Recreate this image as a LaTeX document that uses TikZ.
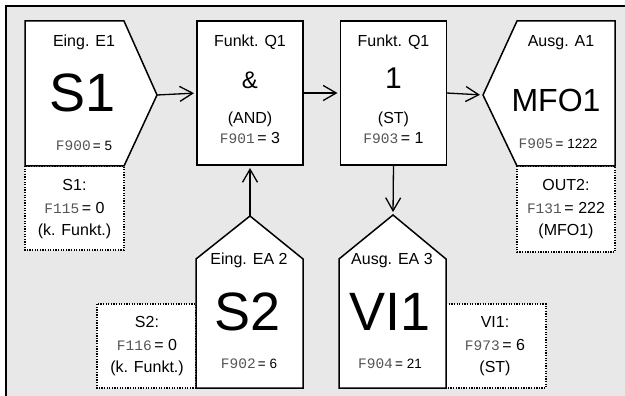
\documentclass[tikz,border=0pt]{standalone}
\usepackage{fontspec}
\setmainfont{Liberation Sans}
\newfontfamily\lcdfont{Liberation Mono}
\usetikzlibrary{arrows.meta}
\definecolor{bgc}{RGB}{232,232,232}
\definecolor{lcdc}{RGB}{85,85,85}
\newcommand{\lcdtxt}[1]{{\lcdfont\fontsize{14.5}{14.5}\selectfont\color{lcdc}#1}}
\begin{document}
\begin{tikzpicture}[x=1pt,y=-1pt,
  shp/.style={draw=black,line width=1.5pt,fill=white,line join=miter},
  dotbox/.style={draw=black,line width=1.7pt,dash pattern=on 1.3pt off 1.3pt,fill=white},
  fbox/.style={draw=black,line width=1.5pt,fill=white,rectangle,minimum width=106pt,minimum height=144pt,inner sep=0pt,outer sep=0pt},
  conn/.style={line width=1.3pt,-{Straight Barb[length=13pt,width=15pt,line width=1.3pt]},shorten >=3pt},
  lbl/.style={font=\fontsize{16}{16}\selectfont,inner sep=0pt,anchor=base},
  sml/.style={font=\fontsize{13.5}{13.5}\selectfont,inner sep=0pt,anchor=base},
  huge/.style={font=\fontsize{54}{54}\selectfont,inner sep=0pt,anchor=base},
]
\useasboundingbox (0,0) rectangle (625,396);
% background and frame
\fill[bgc] (6,6) rectangle (625,396);
\draw[line width=2pt] (6,396) -- (6,6) -- (625,6);

% dotted info boxes (drawn first, shapes overlap shared edges)
\draw[dotbox] (25,166) rectangle (124,250);
\draw[dotbox] (517,166) rectangle (615,252);
\draw[dotbox] (97,304) rectangle (196,388);
\draw[dotbox] (446,304) rectangle (546,388);

% input S1 pentagon
\draw[shp] (25,21) -- (124,21) -- (157,95) -- (124,166) -- (25,166) -- cycle;
\coordinate (s1tip) at (157,95);
% output MFO1 pentagon
\draw[shp] (517,21) -- (615,21) -- (615,166) -- (517,166) -- (483,95) -- cycle;
\coordinate (mfotip) at (483,95);
% S2 house
\draw[shp] (250,216) -- (303,259) -- (303,388) -- (196,388) -- (196,259) -- cycle;
\coordinate (s2apex) at (250,216);
% VI1 house
\draw[shp] (393,215) -- (446,259) -- (446,388) -- (339,388) -- (339,259) -- cycle;
\coordinate (vi1apex) at (393,215);

% function boxes
\node[fbox] (q1) at (250,93) {};
\node[fbox] (q2) at (393.5,93) {};

% connectors
\draw[conn] (s1tip) -- (q1.west);
\draw[conn] (q1.east) -- (q2.west);
\draw[conn] (q2.east) -- (mfotip);
\draw[conn] (s2apex) -- (q1.south);
\draw[conn] (q2.south) -- (vi1apex);

% S1 texts
\node[lbl] (t1) at (84,47) {Eing. E1};
\node[huge] (t2) at (83,112) {S1};
\node[sml] (t3) at (84,151) {\lcdtxt{F900}\,= 5};
\node[lbl] (t4) at (74.5,190) {S1:};
\node[lbl] (t5) at (74.5,213) {\lcdtxt{F115}\,= 0};
\node[lbl] (t6) at (74.5,236) {(k. Funkt.)};

% Q1 (AND)
\node[lbl] (t7) at (250,47) {Funkt. Q1};
\node[font=\fontsize{24}{24}\selectfont,inner sep=0pt,anchor=base] (t8) at (250,89) {\&};
\node[lbl] (t9) at (250,124) {(AND)};
\node[lbl] (t10) at (250,143) {\lcdtxt{F901}\,= 3};

% Q1 (ST)
\node[lbl] (t11) at (393.5,47) {Funkt. Q1};
\node[font=\fontsize{30}{30}\selectfont,inner sep=0pt,anchor=base] (t12) at (393.5,89) {1};
\node[lbl] (t13) at (393.5,124) {(ST)};
\node[lbl] (t14) at (393.5,143) {\lcdtxt{F903}\,= 1};

% MFO1
\node[lbl] (t15) at (561,47) {Ausg. A1};
\node[font=\fontsize{32}{32}\selectfont,inner sep=0pt,anchor=base] (t16) at (556,112) {MFO1};
\node[sml] (t17) at (558,149) {\lcdtxt{F905}\,= 1222};
\node[lbl] (t18) at (566,190) {OUT2:};
\node[lbl] (t19) at (566,213) {\lcdtxt{F131}\,= 222};
\node[lbl] (t20) at (566,236) {(MFO1)};

% S2
\node[lbl] (t21) at (249,265) {Eing. EA 2};
\node[huge] (t22) at (248,330) {S2};
\node[sml] (t23) at (249,368) {\lcdtxt{F902}\,= 6};
\node[lbl] (t24) at (147,327) {S2:};
\node[lbl] (t25) at (147,350) {\lcdtxt{F116}\,= 0};
\node[lbl] (t26) at (147,372) {(k. Funkt.)};

% VI1
\node[lbl] (t27) at (392,265) {Ausg. EA 3};
\node[huge] (t28) at (390,330) {VI1};
\node[sml] (t29) at (390,368) {\lcdtxt{F904}\,= 21};
\node[lbl] (t30) at (495,327) {VI1:};
\node[lbl] (t31) at (495,350) {\lcdtxt{F973}\,= 6};
\node[lbl] (t32) at (495,372) {(ST)};
\end{tikzpicture}
\end{document}
